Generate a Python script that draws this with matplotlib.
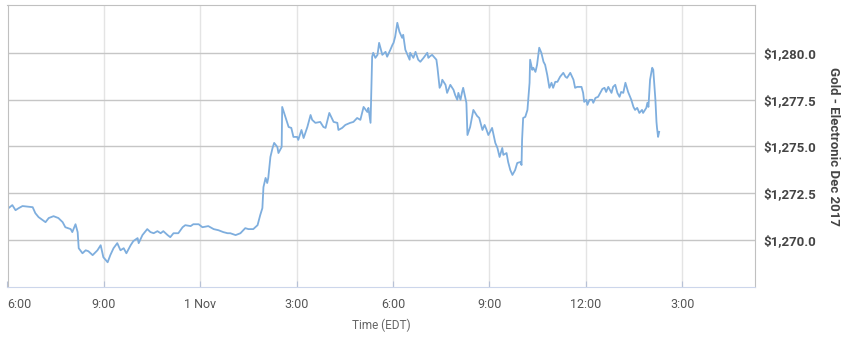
import pandas as pd
import matplotlib
matplotlib.use('Agg')
import matplotlib.pyplot as plt

plt.rcParams['font.family'] = ['Roboto', 'DejaVu Sans']

# minutes after 6:00 PM on 31 Oct 2017 (EDT)
minutes = [2, 9, 15, 21, 28, 47, 52, 58, 71, 77, 86, 95, 103, 108, 118, 121, 127, 131, 133, 140,
           146, 151, 159, 168, 174, 179, 187, 192, 198, 205, 211, 217, 222, 230, 235,
           243, 245, 252, 261, 267, 273, 280, 286, 291, 299, 304, 310, 319, 327, 332, 342, 347,
           357, 364, 375, 385, 394, 403, 411, 416, 426, 435, 444, 450, 459, 467,
           472, 476, 478, 482, 485, 487, 491, 495, 498, 504, 506, 512, 513, 519, 525, 530, 534,
           541, 543, 549, 553, 560, 566, 569, 575, 584, 590, 594, 601, 609, 616, 618, 625, 631,
           640, 646, 653, 659, 665, 672, 674, 678, 681,
           683, 687, 691, 694, 700, 706, 709, 715, 719, 721, 724, 728, 732, 737, 739, 743, 747,
           751, 752, 758, 762, 767, 771, 777, 784, 786, 788, 793, 801, 803, 807, 810, 812, 818,
           821, 827, 833, 836, 840, 842, 846, 849, 851, 857, 859, 864,
           870, 877, 881, 887, 891, 894, 898, 905, 907, 911, 915, 919, 924, 926, 932, 935, 939,
           943, 948, 952, 958, 960, 961, 963, 967, 971, 975, 976, 980, 982, 986, 989, 993, 997,
           1001, 1004, 1008, 1012, 1016, 1019, 1023, 1027, 1032, 1038, 1042, 1045, 1051, 1057,
           1060, 1064,
           1072, 1075, 1077, 1081, 1083, 1087, 1092, 1094, 1098, 1103, 1111, 1115, 1118, 1122,
           1128, 1131, 1135, 1139, 1143, 1146, 1150, 1154, 1159, 1165, 1169, 1172, 1176, 1180,
           1185, 1187, 1193, 1195, 1197, 1200, 1204, 1206, 1210, 1212, 1213, 1215, 1217]

prices = [1271.71, 1271.87, 1271.60, 1271.71, 1271.82, 1271.76, 1271.44, 1271.23, 1270.96, 1271.18,
          1271.28, 1271.18, 1270.96, 1270.69, 1270.59, 1270.43, 1270.85, 1270.43, 1269.57, 1269.30,
          1269.46, 1269.41, 1269.20, 1269.46, 1269.73, 1269.09, 1268.82, 1269.20, 1269.57, 1269.84,
          1269.46, 1269.57, 1269.30, 1269.73, 1269.95,
          1270.11, 1269.84, 1270.27, 1270.59, 1270.43, 1270.37, 1270.48, 1270.37, 1270.48, 1270.27,
          1270.16, 1270.37, 1270.37, 1270.69, 1270.80, 1270.75, 1270.85, 1270.85, 1270.69, 1270.75,
          1270.59, 1270.53, 1270.43, 1270.37, 1270.37, 1270.27, 1270.37, 1270.64, 1270.59, 1270.59,
          1270.80,
          1271.34, 1271.71, 1272.83, 1273.32, 1273.05, 1273.32, 1274.44, 1274.92, 1275.19, 1274.97,
          1274.65, 1274.97, 1277.11, 1276.58, 1276.04, 1275.99, 1275.51, 1275.51, 1275.35, 1275.88,
          1275.45, 1276.04, 1276.68, 1276.42, 1276.26, 1276.31, 1276.04, 1275.99, 1276.79, 1276.31,
          1276.26, 1275.88, 1275.99, 1276.15, 1276.26, 1276.31, 1276.52, 1276.42, 1277.11, 1276.84,
          1277.06, 1276.26, 1279.79,
          1280.00, 1279.73, 1279.89, 1280.53, 1279.89, 1280.05, 1279.79, 1280.16, 1280.43, 1280.53,
          1280.86, 1281.60, 1281.12, 1280.80, 1280.96, 1280.16, 1279.89, 1279.63, 1280.00, 1279.73,
          1280.05, 1279.63, 1279.52, 1279.73, 1280.00, 1279.73, 1279.79, 1279.89, 1279.63, 1279.20,
          1278.13, 1278.29, 1278.56, 1278.29, 1277.86, 1278.29, 1278.02, 1277.75, 1277.49, 1277.86,
          1277.49, 1277.91, 1278.13, 1277.33, 1275.61, 1276.04,
          1276.95, 1276.63, 1276.52, 1275.88, 1276.15, 1275.94, 1275.61, 1275.99, 1275.72, 1275.19,
          1274.92, 1274.44, 1274.92, 1274.55, 1274.65, 1274.17, 1273.74, 1273.48, 1273.74, 1274.12,
          1274.17, 1274.01, 1275.35, 1276.52, 1276.58, 1276.95, 1278.40, 1279.63, 1279.09, 1279.20,
          1278.98, 1279.36, 1280.27, 1280.00, 1279.52, 1279.36, 1278.82, 1278.13, 1278.40, 1278.13,
          1278.45, 1278.45, 1278.72, 1278.93, 1278.72, 1278.66, 1278.93, 1278.56, 1278.13, 1278.18,
          1278.18, 1277.86, 1277.38, 1277.49, 1277.22, 1277.49, 1277.49, 1277.33, 1277.59, 1277.65,
          1278.07, 1278.13, 1277.91, 1278.18, 1277.86, 1278.18, 1278.29, 1277.86, 1277.65, 1277.91,
          1277.86, 1278.40, 1277.91, 1277.49, 1277.11, 1276.95, 1277.06, 1276.79, 1276.95, 1276.79,
          1277.06, 1277.33, 1277.11, 1278.56, 1279.20, 1279.09, 1277.49, 1276.31, 1275.99, 1275.51,
          1275.78]

price_ticks = [1270.0, 1272.5, 1275.0, 1277.5, 1280.0]
series_name = 'Gold - Electronic Dec 2017'

start = pd.Timestamp('2017-10-31 18:00')
times = start + pd.to_timedelta(minutes, unit='m')
xticks = pd.date_range(start, periods=8, freq='3h')


def time_label(t):
    if t.hour == 0:
        return '%d Nov' % t.day
    return '%d:00' % ((t.hour - 1) % 12 + 1)


fig = plt.figure(figsize=(8.48, 3.61), dpi=100)
ax = fig.add_axes([7.5 / 848, 1 - 287 / 361, 747.5 / 848, 282 / 361])
ax.plot(times, prices, color='#7eaede', lw=1.3, solid_joinstyle='round')

ax.set_xlim(start, start + pd.Timedelta(minutes=1396))
ax.set_ylim(1267.5, 1282.55)

ax.set_xticks(xticks)
ax.set_xticklabels([time_label(t) for t in xticks])
ax.get_xticklabels()[0].set_horizontalalignment('left')
ax.tick_params(axis='x', direction='in', length=4, color='#b8c2d6', pad=8,
               labelsize=9, labelcolor='#555555')

ax.yaxis.tick_right()
ax.set_yticks(price_ticks)
ax.set_yticklabels(['${:,.1f}'.format(v) for v in price_ticks])
ax.tick_params(axis='y', length=0, pad=6, labelsize=9.5, labelcolor='#444444')
for lab in ax.get_yticklabels():
    lab.set_fontweight('bold')

ax.grid(axis='y', color='#c6c6c6', lw=1)
ax.grid(axis='x', color='#e4e4e4', lw=1)
ax.set_axisbelow(True)
for side in ['top', 'left', 'right']:
    ax.spines[side].set_color('#c0c0c0')
ax.spines['bottom'].set_color('#ccd6eb')

fig.text(833 / 848, 1 - 146 / 361, series_name, rotation=270, ha='center', va='center',
         fontsize=9.5, fontweight='bold', color='#444444')
fig.text(381 / 848, 1 - 325 / 361, 'Time (EDT)', ha='center', va='center',
         fontsize=8.5, color='#666666')

fig.savefig('out.png', dpi=100)
